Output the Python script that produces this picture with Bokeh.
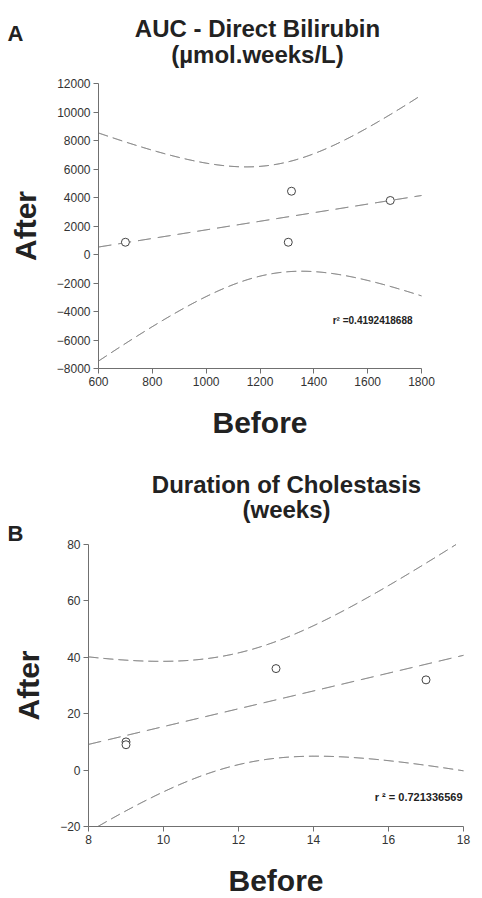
import numpy as np
from bokeh.plotting import figure
from bokeh.models import Range1d, Label
from bokeh.embed import file_html
from bokeh.resources import INLINE

# ---------------- data ----------------
a_before = [700, 1317, 1305, 1684]
a_after = [860, 4440, 860, 3790]
a_xticks = [600, 800, 1000, 1200, 1400, 1600, 1800]
a_yticks = [-8000, -6000, -4000, -2000, 0, 2000, 4000, 6000, 8000, 10000, 12000]
a_title = ["AUC - Direct Bilirubin", "(µmol.weeks/L)"]
a_r2_text = "r² =0.4192418688"

b_before = [9, 9, 13, 17]
b_after = [10, 9, 36, 32]
b_xticks = [8, 10, 12, 14, 16, 18]
b_yticks = [-20, 0, 20, 40, 60, 80]
b_title = ["Duration of Cholestasis", "(weeks)"]
b_r2_text = "r ² = 0.721336569"

T95_DF2 = 4.302653  # Student t, 95 %, 2 degrees of freedom

FONT = "Liberation Sans"
W = 482
HA = 446          # height of panel A figure
HB = 898 - HA     # height of panel B figure


def fit_band(x, y, x0, x1):
    x = np.asarray(x, float)
    y = np.asarray(y, float)
    n = len(x)
    slope, intercept = np.polyfit(x, y, 1)
    xs = np.linspace(x0, x1, 2000)
    resid = y - (slope * x + intercept)
    s = np.sqrt((resid ** 2).sum() / (n - 2))
    sxx = ((x - x.mean()) ** 2).sum()
    se = s * np.sqrt(1.0 / n + (xs - x.mean()) ** 2 / sxx)
    fit = slope * xs + intercept
    return xs, fit, fit + T95_DF2 * se, fit - T95_DF2 * se


def panel(xs, ys, xticks, yticks, title, letter, r2text, height, top,
          fl, fr, ft, fb, title_cx, t1_base, t2_base,
          letter_x, letter_base, r2_right, r2_base, r2_size):
    """Geometry given in page pixels; 'top' is the figure's top on the page."""
    ft, fb = ft - top, fb - top
    t1_base, t2_base, letter_base, r2_base = (t1_base - top, t2_base - top,
                                              letter_base - top, r2_base - top)
    x0, x1 = xticks[0], xticks[-1]
    y0, y1 = yticks[0], yticks[-1]
    kx = (x1 - x0) / (fr - fl)
    ky = (y1 - y0) / (fb - ft)
    p = figure(width=W, height=height,
               x_range=Range1d(x0 - fl * kx, x1 + (W - fr) * kx),
               y_range=Range1d(y0 - (height - fb) * ky, y1 + ft * ky),
               output_backend="svg", toolbar_location=None, min_border=0)
    p.outline_line_color = None
    p.grid.visible = False
    p.background_fill_color = "white"
    p.border_fill_color = "white"

    def dx(px):
        return x0 + (px - fl) * kx

    def dy(py):
        return y1 - (py - ft) * ky

    gx, fit, up, lo = fit_band(xs, ys, x0, x1)

    def clip(v):
        return np.where((v >= y0) & (v <= y1), v, np.nan)

    p.line(gx, clip(up), line_color="#555555", line_width=1, line_dash="10 5")
    p.line(gx, clip(lo), line_color="#555555", line_width=1, line_dash="10 5")
    p.line(gx, clip(fit), line_color="#555555", line_width=1, line_dash="13 7")
    p.scatter(xs, ys, marker="circle", size=8, fill_color="white",
              line_color="#444444", line_width=1)

    p.xaxis.fixed_location = y0
    p.xaxis.bounds = (x0, x1)
    p.yaxis.fixed_location = x0
    p.yaxis.bounds = (y0, y1)
    for ax, ticks, lab in ((p.xaxis, xticks, "Before"), (p.yaxis, yticks, "After")):
        ax.ticker = ticks
        ax.axis_line_color = "#707070"
        ax.major_tick_line_color = "#707070"
        ax.major_tick_out = 5
        ax.major_tick_in = 0
        ax.minor_tick_line_color = None
        ax.major_label_text_font = FONT
        ax.major_label_text_font_size = "12px"
        ax.major_label_text_color = "#333333"
        ax.major_label_standoff = 3
        ax.axis_label = lab
        ax.axis_label_text_font = FONT
        ax.axis_label_text_font_style = "bold"
        ax.axis_label_text_font_size = "30px"
        ax.axis_label_text_color = "#222222"
    p.xaxis.axis_label_standoff = 17
    p.yaxis.axis_label_standoff = 12

    def lab(px, py, text, align, size):
        return Label(x=dx(px), y=dy(py), text=text, text_align=align,
                     text_baseline="alphabetic", text_font=FONT,
                     text_font_style="bold", text_font_size=size,
                     text_color="#222222")

    p.add_layout(lab(title_cx, t1_base, title[0], "center", "24px"))
    p.add_layout(lab(title_cx, t2_base, title[1], "center", "24px"))
    p.add_layout(lab(letter_x, letter_base, letter, "left", "22px"))
    p.add_layout(lab(r2_right, r2_base, r2text, "right", r2_size))
    return p


pa = panel(a_before, a_after, a_xticks, a_yticks, a_title, "A", a_r2_text,
           HA, 0, 98, 421, 83, 368, 257, 28, 54, 7, 33, 412, 320, "10px")
pb = panel(b_before, b_after, b_xticks, b_yticks, b_title, "B", b_r2_text,
           HB, HA, 88, 463, 544, 826, 286, 484, 509, 7, 533, 462, 796, "11px")

open("out.html", "w").write(file_html([pa, pb], INLINE))
